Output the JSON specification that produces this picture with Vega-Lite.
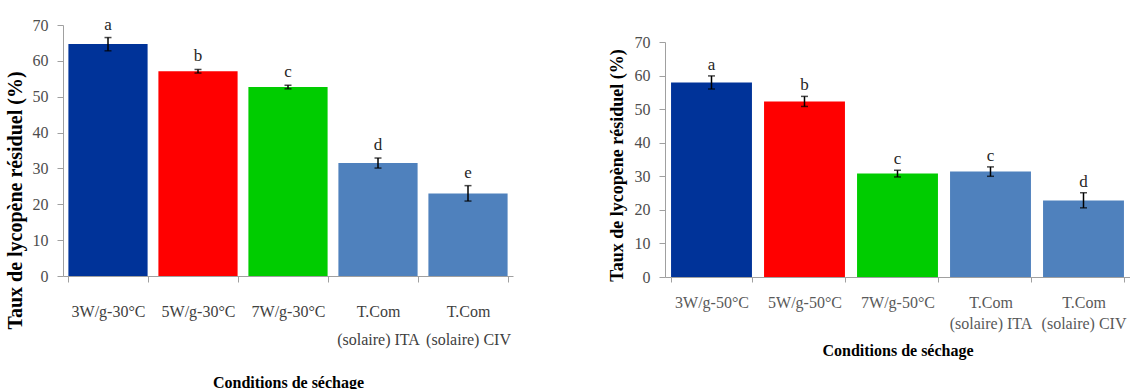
{
  "$schema": "https://vega.github.io/schema/vega-lite/v6.json",
  "padding": {"left": 5, "top": 15, "right": 0, "bottom": 0},
  "config": {
    "font": "Liberation Serif",
    "view": {"stroke": null},
    "axis": {"labelFont": "Liberation Serif", "titleFont": "Liberation Serif", "labelOverlap": false, "domainColor": "#a0a0a0", "tickColor": "#a0a0a0", "titleColor": "black", "titleFontWeight": "bold"},
    "axisY": {"grid": false, "tickSize": 6, "labelPadding": 9, "labelFontSize": 16, "labelColor": "#4d4d4d", "titleBaseline": "middle", "titleAlign": "center"},
    "axisX": {"labelAngle": 0, "tickBand": "extent", "labelFontSize": 16, "titleFontSize": 16, "titleBaseline": "middle"},
    "text": {"font": "Liberation Serif"}
  },
  "spacing": 94,
  "hconcat": [
    {
      "width": 450,
      "height": 251,
      "data": {"values": [
        {"condition": "3W/g-30°C", "taux": 64.7, "bas": 62.8, "haut": 66.5, "lettre": "a"},
        {"condition": "5W/g-30°C", "taux": 57.1, "bas": 56.6, "haut": 57.6, "lettre": "b"},
        {"condition": "7W/g-30°C", "taux": 52.7, "bas": 52.2, "haut": 53.2, "lettre": "c"},
        {"condition": "T.Com (solaire) ITA", "taux": 31.5, "bas": 30.1, "haut": 32.9, "lettre": "d"},
        {"condition": "T.Com (solaire) CIV", "taux": 23.0, "bas": 20.9, "haut": 25.2, "lettre": "e"}
      ]},
      "encoding": {
        "x": {
          "field": "condition", "type": "nominal", "sort": null,
          "scale": {"paddingInner": 0.12, "paddingOuter": 0.06},
          "axis": {
            "title": "Conditions de séchage",
            "tickSize": 6, "labelPadding": 21, "labelLineHeight": 28, "labelColor": "#404040",
            "labelExpr": "indexof(datum.label, 'T.Com') == 0 ? ['T.Com', substring(datum.label, 6)] : datum.label",
            "titleY": 106
          }
        }
      },
      "layer": [
        {
          "mark": {"type": "bar"},
          "encoding": {
            "y": {
              "field": "taux", "type": "quantitative",
              "scale": {"domain": [0, 70], "nice": false},
              "axis": {"title": "Taux de lycopène résiduel (%)", "values": [0, 10, 20, 30, 40, 50, 60, 70], "titleFontSize": 20, "titleX": -48, "titleY": 175}
            },
            "color": {
              "field": "condition", "type": "nominal", "sort": null, "legend": null,
              "scale": {"domain": ["3W/g-30°C", "5W/g-30°C", "7W/g-30°C", "T.Com (solaire) ITA", "T.Com (solaire) CIV"],
                        "range": ["#003399", "#FF0000", "#00CC00", "#4F81BD", "#4F81BD"]}
            }
          }
        },
        {
          "mark": {"type": "rule", "color": "black", "strokeWidth": 1.5},
          "encoding": {
            "y": {"field": "bas", "type": "quantitative",
                  "axis": {"title": "Taux de lycopène résiduel (%)", "values": [0, 10, 20, 30, 40, 50, 60, 70], "titleFontSize": 20, "titleX": -48, "titleY": 175}},
            "y2": {"field": "haut"}
          }
        },
        {
          "mark": {"type": "tick", "color": "black", "thickness": 1.5, "size": 7},
          "encoding": {"y": {"field": "bas", "type": "quantitative",
                  "axis": {"title": "Taux de lycopène résiduel (%)", "values": [0, 10, 20, 30, 40, 50, 60, 70], "titleFontSize": 20, "titleX": -48, "titleY": 175}}}
        },
        {
          "mark": {"type": "tick", "color": "black", "thickness": 1.5, "size": 7},
          "encoding": {"y": {"field": "haut", "type": "quantitative",
                  "axis": {"title": "Taux de lycopène résiduel (%)", "values": [0, 10, 20, 30, 40, 50, 60, 70], "titleFontSize": 20, "titleX": -48, "titleY": 175}}}
        },
        {
          "mark": {"type": "text", "baseline": "bottom", "dy": -4, "fontSize": 17, "color": "#262626", "font": "Liberation Serif"},
          "encoding": {
            "y": {"field": "haut", "type": "quantitative",
                  "axis": {"title": "Taux de lycopène résiduel (%)", "values": [0, 10, 20, 30, 40, 50, 60, 70], "titleFontSize": 20, "titleX": -48, "titleY": 175}},
            "text": {"field": "lettre"}
          }
        }
      ]
    },
    {
      "spacing": 0,
      "vconcat": [
        {
          "width": 465,
          "height": 9,
          "data": {"values": []},
          "mark": {"type": "point", "opacity": 0},
          "encoding": {}
        },
        {
          "width": 465,
          "height": 235,
          "data": {"values": [
            {"condition": "3W/g-50°C", "taux": 57.9, "bas": 56.0, "haut": 59.9, "lettre": "a"},
            {"condition": "5W/g-50°C", "taux": 52.3, "bas": 50.8, "haut": 53.8, "lettre": "b"},
            {"condition": "7W/g-50°C", "taux": 30.8, "bas": 29.8, "haut": 31.8, "lettre": "c"},
            {"condition": "T.Com (solaire) ITA", "taux": 31.4, "bas": 30.0, "haut": 32.8, "lettre": "c"},
            {"condition": "T.Com (solaire) CIV", "taux": 22.8, "bas": 20.6, "haut": 25.1, "lettre": "d"}
          ]},
          "encoding": {
            "x": {
              "field": "condition", "type": "nominal", "sort": null,
              "scale": {"paddingInner": 0.13, "paddingOuter": 0.065},
              "axis": {
                "title": "Conditions de séchage",
                "tickSize": 5, "labelPadding": 12, "labelLineHeight": 21, "labelColor": "#595959",
                "labelExpr": "indexof(datum.label, 'T.Com') == 0 ? ['T.Com', substring(datum.label, 6)] : datum.label",
                "titleY": 73
              }
            }
          },
          "layer": [
            {
              "mark": {"type": "bar"},
              "encoding": {
                "y": {
                  "field": "taux", "type": "quantitative",
                  "scale": {"domain": [0, 70], "nice": false},
                  "axis": {"title": "Taux de lycopène résiduel (%)", "values": [0, 10, 20, 30, 40, 50, 60, 70], "titleFontSize": 18, "titleX": -48, "titleY": 123}
                },
                "color": {
                  "field": "condition", "type": "nominal", "sort": null, "legend": null,
                  "scale": {"domain": ["3W/g-50°C", "5W/g-50°C", "7W/g-50°C", "T.Com (solaire) ITA", "T.Com (solaire) CIV"],
                            "range": ["#003399", "#FF0000", "#00CC00", "#4F81BD", "#4F81BD"]}
                }
              }
            },
            {
              "mark": {"type": "rule", "color": "black", "strokeWidth": 1.5},
              "encoding": {
                "y": {"field": "bas", "type": "quantitative",
                      "axis": {"title": "Taux de lycopène résiduel (%)", "values": [0, 10, 20, 30, 40, 50, 60, 70], "titleFontSize": 18, "titleX": -48, "titleY": 123}},
                "y2": {"field": "haut"}
              }
            },
            {
              "mark": {"type": "tick", "color": "black", "thickness": 1.5, "size": 7},
              "encoding": {"y": {"field": "bas", "type": "quantitative",
                      "axis": {"title": "Taux de lycopène résiduel (%)", "values": [0, 10, 20, 30, 40, 50, 60, 70], "titleFontSize": 18, "titleX": -48, "titleY": 123}}}
            },
            {
              "mark": {"type": "tick", "color": "black", "thickness": 1.5, "size": 7},
              "encoding": {"y": {"field": "haut", "type": "quantitative",
                      "axis": {"title": "Taux de lycopène résiduel (%)", "values": [0, 10, 20, 30, 40, 50, 60, 70], "titleFontSize": 18, "titleX": -48, "titleY": 123}}}
            },
            {
              "mark": {"type": "text", "baseline": "bottom", "dy": -2, "fontSize": 17, "color": "#262626", "font": "Liberation Serif"},
              "encoding": {
                "y": {"field": "haut", "type": "quantitative",
                      "axis": {"title": "Taux de lycopène résiduel (%)", "values": [0, 10, 20, 30, 40, 50, 60, 70], "titleFontSize": 18, "titleX": -48, "titleY": 123}},
                "text": {"field": "lettre"}
              }
            }
          ]
        }
      ]
    }
  ]
}
